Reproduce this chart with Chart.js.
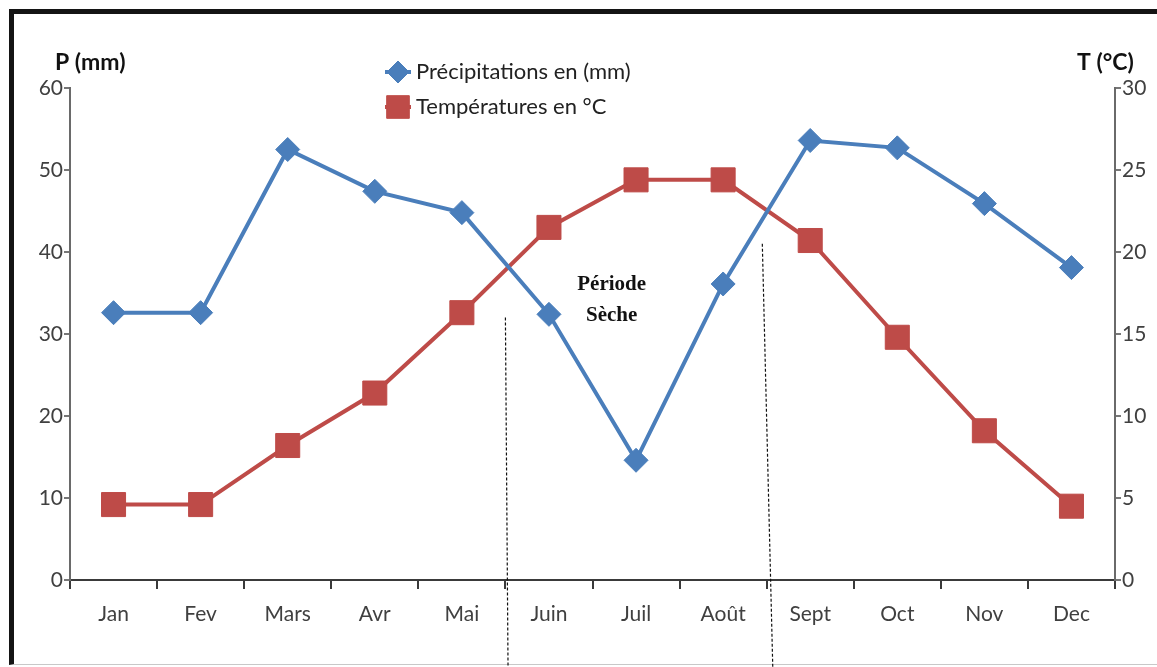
<!DOCTYPE html>
<html>
<head>
<meta charset="utf-8">
<script src="https://cdn.jsdelivr.net/npm/chart.js@4/dist/chart.umd.min.js"></script>
<style>
  html, body { margin: 0; padding: 0; background: #fff; }
  #cadre {
    position: absolute; left: 9px; top: 9px; right: 0; bottom: 2px;
    border-top: 5px solid #141414; border-left: 5px solid #141414;
    border-bottom: 1px solid #c8c8c8;
  }
  #graphe { position: absolute; left: 0; top: 0; }
</style>
</head>
<body>
<div id="cadre"></div>
<canvas id="graphe" width="1157" height="667"></canvas>
<script>
// Diagramme ombrothermique
const mois = ['Jan', 'Fev', 'Mars', 'Avr', 'Mai', 'Juin', 'Juil', 'Août', 'Sept', 'Oct', 'Nov', 'Dec'];
const precipitations = [32.6, 32.6, 52.5, 47.4, 44.8, 32.4, 14.6, 36.1, 53.6, 52.7, 45.9, 38.1];
const temperatures = [4.6, 4.6, 8.2, 11.4, 16.3, 21.5, 24.4, 24.4, 20.7, 14.8, 9.1, 4.5];
const ticksP = [0, 10, 20, 30, 40, 50, 60];
const ticksT = [0, 5, 10, 15, 20, 25, 30];
// limites de la période sèche (position sur l'axe des mois, haut en mm)
const limitesSeche = [
  { haut: 4.50, bas: 4.53, P: 32 },
  { haut: 7.45, bas: 7.57, P: 41 }
];
const texteSeche = { x: 5.72, lignes: [['Période', 36.0], ['Sèche', 32.2]] };

const BLEU = '#4A7EBB';
const ROUGE = '#BE4B48';
const POLICE = 'Lato, "Open Sans", sans-serif';

const habillage = {
  id: 'habillage',
  afterDraw(chart) {
    const ctx = chart.ctx;
    const x = chart.scales.x, y = chart.scales.y;
    ctx.save();

    // titres des axes
    ctx.fillStyle = '#111';
    ctx.font = 'bold 23px ' + POLICE;
    ctx.textBaseline = 'middle';
    ctx.textAlign = 'left';
    ctx.fillText('P (mm)', 55, 63);
    ctx.fillText('T (°C)', 1077, 63);

    // légende
    chart.data.datasets.forEach((ds, i) => {
      const cy = 72 + i * 35;
      ctx.strokeStyle = ds.borderColor;
      ctx.lineWidth = 4;
      ctx.beginPath();
      ctx.moveTo(385, cy);
      ctx.lineTo(411, cy);
      ctx.stroke();
      ctx.fillStyle = ds.pointBackgroundColor;
      ctx.strokeStyle = ds.pointBackgroundColor;
      ctx.lineWidth = 1;
      Chart.helpers.drawPoint(ctx, { pointStyle: ds.pointStyle, radius: i === 0 ? 11 : 16, rotation: 0, borderWidth: 1 }, 398, cy);
      ctx.fillStyle = '#222';
      ctx.font = '22px ' + POLICE;
      ctx.textAlign = 'left';
      ctx.fillText(ds.label, 416, cy);
    });

    // limites de la période sèche
    ctx.strokeStyle = '#111';
    ctx.lineWidth = 1.2;
    ctx.setLineDash([3, 2]);
    limitesSeche.forEach(l => {
      ctx.beginPath();
      ctx.moveTo(x.getPixelForValue(l.haut), y.getPixelForValue(l.P));
      ctx.lineTo(x.getPixelForValue(l.bas), chart.height);
      ctx.stroke();
    });
    ctx.setLineDash([]);

    ctx.fillStyle = '#111';
    ctx.font = 'bold 21px "Liberation Serif", "DejaVu Serif", serif';
    ctx.textAlign = 'center';
    texteSeche.lignes.forEach(([t, v]) => {
      ctx.fillText(t, x.getPixelForValue(texteSeche.x), y.getPixelForValue(v));
    });
    ctx.restore();
  }
};

const styleAxeY = (min, max, pas, valeurs, largeur) => ({
  min: min, max: max,
  afterBuildTicks: s => { s.ticks = valeurs.map(v => ({ value: v })); },
  afterFit: s => { s.width = largeur; },
  grid: { drawOnChartArea: false, drawTicks: true, tickLength: 6, color: '#777', lineWidth: 2 },
  border: { display: true, color: '#6a6a6a', width: 2 },
  ticks: { stepSize: pas, padding: 1, color: '#404040', font: { family: POLICE, size: 21 } }
});

new Chart(document.getElementById('graphe').getContext('2d'), {
  type: 'line',
  data: {
    labels: mois,
    datasets: [
      {
        label: 'Précipitations en (mm)', data: precipitations, yAxisID: 'y',
        borderColor: BLEU, backgroundColor: BLEU, borderWidth: 4,
        pointStyle: 'rectRot', pointRadius: 12, pointBackgroundColor: BLEU, pointBorderColor: BLEU, pointBorderWidth: 1,
        tension: 0
      },
      {
        label: 'Températures en °C', data: temperatures, yAxisID: 'y1',
        borderColor: ROUGE, backgroundColor: ROUGE, borderWidth: 4,
        pointStyle: 'rect', pointRadius: 17, pointBackgroundColor: ROUGE, pointBorderColor: ROUGE, pointBorderWidth: 1,
        tension: 0
      }
    ]
  },
  options: {
    responsive: false,
    animation: false,
    devicePixelRatio: 1,
    layout: { padding: { top: 88, left: 0, right: 0, bottom: 0 } },
    plugins: { legend: { display: false }, tooltip: { enabled: false } },
    scales: {
      x: {
        offset: true,
        afterFit: s => { s.height = 87; },
        grid: { offset: true, drawOnChartArea: false, drawTicks: true, tickLength: 9, color: '#3a3a3a', lineWidth: 2 },
        border: { display: true, color: '#3a3a3a', width: 2 },
        ticks: { padding: 13, color: '#404040', font: { family: POLICE, size: 21 }, maxRotation: 0 }
      },
      y: styleAxeY(0, 60, 10, ticksP, 70),
      y1: Object.assign(styleAxeY(0, 30, 5, ticksT, 42), { position: 'right' })
    }
  },
  plugins: [habillage]
});
</script>
</body>
</html>
